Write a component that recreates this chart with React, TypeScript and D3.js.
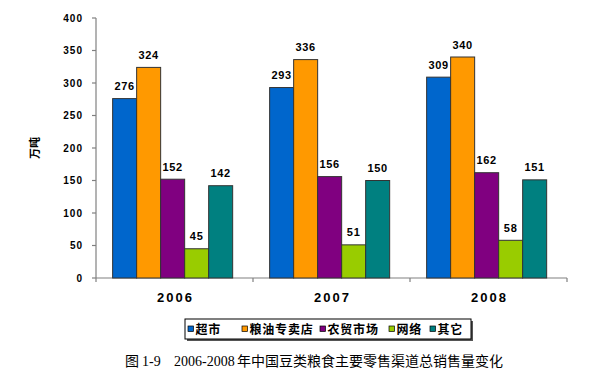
import React from "react";
import * as d3 from "d3";

const years = ["2006", "2007", "2008"];
const seriesNames = ["超市", "粮油专卖店", "农贸市场", "网络", "其它"];
const seriesColors = ["#0066CC", "#FF9900", "#800080", "#99CC00", "#008080"];
const supermarket = [276, 293, 309];
const grainShop = [324, 336, 340];
const farmMarket = [152, 156, 162];
const online = [45, 51, 58];
const others = [142, 150, 151];
const yTicks = [0, 50, 100, 150, 200, 250, 300, 350, 400];
const yTitle = "万吨";
const captionFig = "图";
const captionNum = "1-9";
const captionYears = "2006-2008";
const captionText = "年中国豆类粮食主要零售渠道总销售量变化";

const seriesValues = [supermarket, grainShop, farmMarket, online, others];

const W = 601;
const H = 382;
const left = 96;
const right = 567;
const top = 18;
const bottom = 278;

const sans = "'Liberation Sans', Arial, sans-serif";
const cjk = "'Noto Sans CJK SC', sans-serif";
const serif = "'Liberation Serif', 'Times New Roman', serif";

const legendItems = [
  { marker: 188 },
  { marker: 242 },
  { marker: 320 },
  { marker: 389 },
  { marker: 430 },
];

export default function App() {
  const y = d3.scaleLinear().domain([0, 400]).range([bottom, top]);
  const x0 = d3.scaleBand<string>().domain(years).range([left, right]).padding(0);
  const x1 = d3
    .scaleBand<string>()
    .domain(seriesNames)
    .range([0, x0.bandwidth()])
    .paddingInner(0)
    .paddingOuter(0.77)
    .align(0.45);

  const boundaries = [left, ...years.map((yr) => (x0(yr) as number) + x0.bandwidth())];

  return (
    <svg
      width={W}
      height={H}
      style={{ position: "absolute", left: 0, top: 0, background: "#fff" }}
    >
      <rect x={0} y={0} width={W} height={H} fill="#fff" />
      {/* y axis */}
      <line x1={left} x2={left} y1={top} y2={bottom} stroke="#808080" strokeWidth={1.2} />
      {yTicks.map((t) => (
        <g key={t}>
          <line x1={left - 4} x2={left} y1={y(t)} y2={y(t)} stroke="#808080" strokeWidth={1.2} />
          <text
            x={83}
            y={y(t) + 3.5}
            textAnchor="end"
            fontFamily={sans}
            fontWeight="bold"
            fontSize={10}
            letterSpacing={1}
            fill="#000"
          >
            {t}
          </text>
        </g>
      ))}
      {/* x axis */}
      <line x1={left} x2={right} y1={bottom} y2={bottom} stroke="#808080" strokeWidth={1.2} />
      {boundaries.map((b, i) => (
        <line key={i} x1={b} x2={b} y1={bottom} y2={bottom + 4} stroke="#808080" strokeWidth={1.2} />
      ))}
      {years.map((yr) => (
        <text
          key={yr}
          x={(x0(yr) as number) + x0.bandwidth() / 2 + 1}
          y={302}
          textAnchor="middle"
          fontFamily={sans}
          fontWeight="bold"
          fontSize={13}
          letterSpacing={2}
          fill="#000"
        >
          {yr}
        </text>
      ))}
      {/* bars */}
      {years.map((yr, yi) => (
        <g key={yr} transform={`translate(${x0(yr)},0)`}>
          {seriesNames.map((s, si) => {
            const v = seriesValues[si][yi];
            const bx = x1(s) as number;
            return (
              <g key={s}>
                <rect
                  x={bx}
                  y={y(v)}
                  width={x1.bandwidth()}
                  height={bottom - y(v)}
                  fill={seriesColors[si]}
                  stroke="#333"
                  strokeWidth={1}
                />
                <text
                  x={bx + x1.bandwidth() / 2}
                  y={y(v) - 8.5}
                  textAnchor="middle"
                  fontFamily={sans}
                  fontWeight="bold"
                  fontSize={11}
                  letterSpacing={0.7}
                  fill="#000"
                >
                  {v}
                </text>
              </g>
            );
          })}
        </g>
      ))}
      {/* y title */}
      <text
        transform="translate(39,148) rotate(-90)"
        textAnchor="middle"
        fontFamily={cjk}
        fontWeight="bold"
        fontSize={11}
        fill="#000"
      >
        {yTitle}
      </text>
      {/* legend */}
      <rect x={187} y={321} width={286} height={20} fill="#555" />
      <rect x={185} y={319} width={286} height={20} fill="#fff" stroke="#000" strokeWidth={1} />
      {seriesNames.map((s, i) => (
        <g key={s}>
          <rect
            x={legendItems[i].marker}
            y={326}
            width={5.5}
            height={5.5}
            fill={seriesColors[i]}
            stroke="#000"
            strokeWidth={0.7}
          />
          <text
            x={legendItems[i].marker + 7.5}
            y={333.5}
            fontFamily={cjk}
            fontWeight="bold"
            fontSize={12}
            letterSpacing={0.8}
            fill="#000"
          >
            {s}
          </text>
        </g>
      ))}
      {/* caption */}
      <text y={366} fontSize={14} fill="#000">
        <tspan x={125} fontFamily={cjk}>{captionFig}</tspan>
        <tspan x={142} fontFamily={serif}>{captionNum}</tspan>
        <tspan x={174} fontFamily={serif}>{captionYears}</tspan>
        <tspan x={237} fontFamily={cjk}>{captionText}</tspan>
      </text>
    </svg>
  );
}
